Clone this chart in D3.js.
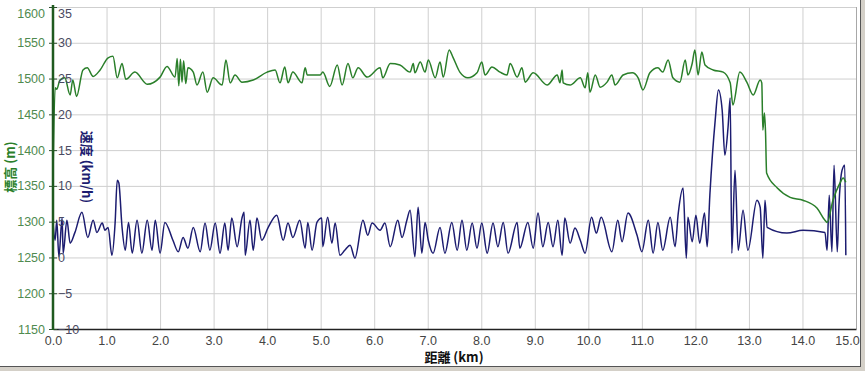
<!DOCTYPE html>
<html>
<head>
<meta charset="utf-8">
<script src="https://cdn.jsdelivr.net/npm/d3@7"></script>
<style>
  body { margin: 0; background: #fff; }
  svg { display: block; font-family: "Liberation Sans", Arial, sans-serif; }
</style>
</head>
<body>
<div class="chart"></div>
<script>
// elevation track (km, m)
const elevKm = [
  0, 0.04, 0.07, 0.13, 0.22, 0.32, 0.37, 0.44, 0.56, 0.64,
  0.75, 0.88, 1.03, 1.12, 1.20, 1.29, 1.36, 1.53, 1.76, 2.00,
  2.13, 2.28, 2.32, 2.35, 2.38, 2.41, 2.44, 2.48, 2.52, 2.62,
  2.69, 2.80, 2.88, 2.99, 3.16, 3.23, 3.31, 3.40, 3.53, 3.74,
  4.00, 4.15, 4.24, 4.33, 4.39, 4.48, 4.65, 4.71, 4.75, 4.99,
  5.04, 5.17, 5.31, 5.40, 5.51, 5.60, 5.70, 5.87, 6.11, 6.16,
  6.30, 6.48, 6.67, 6.73, 6.76, 6.86, 6.95, 7.01, 7.14, 7.23,
  7.29, 7.40, 7.47, 7.60, 7.75, 7.92, 8.01, 8.07, 8.20, 8.35,
  8.48, 8.54, 8.67, 8.76, 8.82, 8.97, 9.23, 9.42, 9.47, 9.51,
  9.53, 9.66, 9.85, 9.94, 9.99, 10.03, 10.13, 10.22, 10.35, 10.44,
  10.50, 10.65, 10.82, 10.93, 11.02, 11.15, 11.30, 11.39, 11.49, 11.58,
  11.71, 11.81, 11.86, 11.94, 11.99, 12.05, 12.12, 12.18, 12.33, 12.52,
  12.65, 12.70, 12.83, 12.96, 13.08, 13.21, 13.24, 13.26, 13.29, 13.31,
  13.33, 13.53, 13.77, 14.01, 14.27, 14.42, 14.46, 14.57, 14.70, 14.76, 14.81
];
const elevM = [
  1362, 1487, 1485, 1498, 1501, 1477, 1498, 1475, 1512, 1515,
  1503, 1512, 1529, 1531, 1501, 1521, 1499, 1509, 1492, 1502,
  1517, 1502, 1528, 1490, 1527, 1495, 1525, 1493, 1515, 1509,
  1491, 1509, 1481, 1501, 1491, 1526, 1494, 1505, 1495, 1498,
  1509, 1512, 1494, 1516, 1494, 1509, 1494, 1515, 1505, 1505,
  1509, 1489, 1519, 1491, 1521, 1501, 1515, 1502, 1515, 1501,
  1521, 1519, 1509, 1521, 1508, 1523, 1509, 1526, 1501, 1523,
  1502, 1540, 1530, 1509, 1501, 1508, 1523, 1505, 1516, 1509,
  1505, 1521, 1502, 1515, 1495, 1508, 1491, 1505, 1494, 1512,
  1494, 1491, 1501, 1487, 1508, 1481, 1505, 1488, 1495, 1505,
  1491, 1505, 1508, 1501, 1484, 1508, 1515, 1509, 1526, 1501,
  1495, 1526, 1505, 1521, 1540, 1505, 1537, 1519, 1512, 1509,
  1494, 1463, 1509, 1495, 1477, 1498, 1494, 1428, 1452, 1425,
  1368, 1347, 1334, 1330, 1319, 1302, 1299, 1330, 1354, 1361, 1355
];

// speed track (km, km/h)
const speedKm = [
  0, 0.04, 0.07, 0.11, 0.17, 0.19, 0.26, 0.32, 0.41, 0.54,
  0.65, 0.75, 0.82, 0.92, 0.97, 1.03, 1.10, 1.16, 1.20, 1.23,
  1.29, 1.35, 1.41, 1.48, 1.57, 1.66, 1.76, 1.85, 1.91, 2.00,
  2.09, 2.24, 2.34, 2.43, 2.52, 2.62, 2.75, 2.84, 2.93, 3.03,
  3.12, 3.21, 3.27, 3.34, 3.44, 3.53, 3.57, 3.59, 3.68, 3.74,
  3.81, 3.90, 4.02, 4.18, 4.30, 4.39, 4.48, 4.61, 4.71, 4.76,
  4.84, 4.93, 5.02, 5.04, 5.13, 5.21, 5.27, 5.36, 5.45, 5.55,
  5.64, 5.79, 5.88, 5.96, 6.11, 6.20, 6.30, 6.44, 6.52, 6.61,
  6.67, 6.76, 6.82, 6.89, 6.95, 7.01, 7.10, 7.23, 7.32, 7.45,
  7.55, 7.64, 7.73, 7.83, 7.92, 8.01, 8.11, 8.22, 8.31, 8.41,
  8.50, 8.67, 8.72, 8.87, 8.97, 9.06, 9.15, 9.25, 9.34, 9.43,
  9.51, 9.56, 9.66, 9.75, 9.85, 9.94, 10.06, 10.15, 10.24, 10.44,
  10.55, 10.63, 10.74, 10.91, 11.00, 11.12, 11.21, 11.30, 11.39, 11.53,
  11.62, 11.68, 11.77, 11.83, 11.86, 11.94, 12.01, 12.08, 12.17, 12.22,
  12.27, 12.37, 12.43, 12.50, 12.55, 12.61, 12.65, 12.68, 12.74, 12.80,
  12.89, 12.98, 13.15, 13.21, 13.26, 13.30, 13.34, 13.71, 14.01, 14.42,
  14.46, 14.50, 14.55, 14.59, 14.65, 14.68, 14.74, 14.79, 14.81
];
const speedKmh = [
  4.9, 2.4, 5.2, 0.1, 5.5, 0.6, 5.2, 2.0, 3.5, 6.3,
  2.8, 5.2, 3.5, 4.8, 3.8, 4.2, 0.3, 4.8, 10.8, 10.4,
  4.2, 1.0, 4.9, 0.6, 5.2, 0.6, 5.2, 1.0, 5.2, 0.6,
  4.9, 2.4, 0.8, 2.8, 1.3, 4.2, 0.8, 4.8, 1.0, 4.8,
  0.6, 4.8, 1.0, 5.5, 1.5, 5.5, 6.3, 0.3, 5.2, 1.0,
  5.5, 2.4, 4.2, 5.9, 2.4, 4.8, 2.8, 5.2, 1.3, 4.9,
  1.0, 4.9, 5.5, 1.5, 5.6, 2.0, 4.8, 0.3, 1.0, 1.7,
  -0.1, 5.2, 3.1, 4.8, 3.8, 4.8, 1.5, 5.2, 2.8, 5.2,
  6.6, 0.1, 7.0, 0.6, 4.9, 2.4, 0.6, 4.2, 0.6, 4.9,
  1.0, 5.2, 1.0, 4.8, 1.3, 4.8, 0.6, 4.8, 1.5, 4.9,
  0.6, 4.9, 1.3, 4.9, 1.3, 6.2, 1.5, 4.9, 1.5, 5.2,
  0.3, 5.5, 2.0, 4.1, 2.4, 0.6, 5.6, 3.4, 5.6, 0.8,
  5.2, 2.2, 6.2, 3.1, 0.8, 5.2, 0.6, 4.9, 1.0, 5.6,
  1.5, 6.2, 9.7, -0.1, 5.6, 2.2, 5.9, 2.0, 6.2, 1.5,
  8.7, 19.2, 23.4, 20.6, 14.3, 18.2, 22.3, 0.6, 12.2, 1.0,
  6.6, 1.0, 8.0, 7.0, -0.1, 8.0, 4.2, 3.4, 3.8, 3.5,
  1.0, 8.7, 0.8, 12.9, 0.8, 7.0, 12.2, 12.9, 0.3
];

const xTicks = d3.range(0, 16, 1);
const elevTicks = d3.range(1150, 1601, 50);
const speedTicks = d3.range(-10, 36, 5);

const width = 865;
const height = 371;
const plot = { left: 53, right: 856, top: 7, bottom: 329 };

const x = d3.scaleLinear().domain([0, 15]).range([plot.left, plot.right]);
const yElev = d3.scaleLinear().domain([1150, 1600]).range([plot.bottom, plot.top]);
const ySpeed = d3.scaleLinear().domain([-10, 35]).range([plot.bottom, plot.top]);

const svg = d3.select(".chart").append("svg")
  .attr("width", width)
  .attr("height", height);

// window frame
svg.append("rect").attr("width", width).attr("height", height).attr("fill", "#d4d0c8");
svg.append("rect").attr("width", 860).attr("height", 367).attr("fill", "#fff");
svg.append("line").attr("x1", 860.5).attr("x2", 860.5).attr("y1", 0).attr("y2", 367)
  .attr("stroke", "#555");
svg.append("line").attr("x1", 0).attr("x2", 861).attr("y1", 366.5).attr("y2", 366.5)
  .attr("stroke", "#555");

// grid
svg.append("g").selectAll("line")
  .data(xTicks.slice(1))
  .enter().append("line")
  .attr("x1", d => x(d) + 0.5).attr("x2", d => x(d) + 0.5)
  .attr("y1", plot.top).attr("y2", plot.bottom)
  .attr("stroke", d => d === 15 ? "#a8a8a8" : "#cfcfcf");

svg.append("g").selectAll("line")
  .data(elevTicks.slice(1))
  .enter().append("line")
  .attr("x1", plot.left).attr("x2", plot.right)
  .attr("y1", d => yElev(d) + 0.5).attr("y2", d => yElev(d) + 0.5)
  .attr("stroke", "#cfcfcf");

// lines
svg.append("clipPath").attr("id", "clip").append("rect")
  .attr("x", plot.left).attr("y", plot.top)
  .attr("width", plot.right - plot.left).attr("height", plot.bottom - plot.top);

const elevLine = d3.line()
  .x((d, i) => x(elevKm[i]))
  .y(d => yElev(d))
  .curve(d3.curveMonotoneX);

const speedLine = d3.line()
  .x((d, i) => x(speedKm[i]))
  .y(d => ySpeed(d))
  .curve(d3.curveMonotoneX);

svg.append("path")
  .attr("clip-path", "url(#clip)")
  .attr("d", speedLine(speedKmh))
  .attr("fill", "none")
  .attr("stroke", "#1c1c70")
  .attr("stroke-width", 1.5);

svg.append("path")
  .attr("clip-path", "url(#clip)")
  .attr("d", elevLine(elevM))
  .attr("fill", "none")
  .attr("stroke", "#2a7f2a")
  .attr("stroke-width", 1.5);

// x axis
const xAxis = svg.append("g")
  .attr("transform", `translate(0,${plot.bottom})`)
  .call(d3.axisBottom(x).tickValues(xTicks).tickFormat(d3.format(".1f")).tickSize(0).tickPadding(7));
xAxis.select(".domain").attr("stroke", "#222").attr("stroke-width", 1.5);
xAxis.selectAll("text")
  .attr("fill", "#444")
  .style("font-size", "12.5px")
  .attr("dx", d => d === 15 ? -9 : 0);

// elevation axis (left side of the line)
const elevAxis = svg.append("g")
  .attr("transform", `translate(${plot.left},0)`)
  .call(d3.axisLeft(yElev).tickValues(elevTicks).tickFormat(d3.format("d")).tickSize(4).tickPadding(4));
elevAxis.select(".domain").remove();
elevAxis.selectAll("line").attr("stroke", "#2f4f2f");
elevAxis.selectAll("text")
  .attr("fill", "#4f8a4f")
  .style("font-size", "12.5px")
  .attr("dy", d => d === 1600 ? "0.8em" : "0.32em");

// speed axis (right side of the same line)
const speedAxis = svg.append("g")
  .attr("transform", `translate(${plot.left},0)`)
  .call(d3.axisRight(ySpeed).tickValues(speedTicks).tickSize(4).tickPadding(1));
speedAxis.select(".domain").remove();
speedAxis.selectAll("line").attr("stroke", "#2f4f2f");
speedAxis.selectAll("text")
  .attr("fill", "#4a4a62")
  .style("font-size", "12.5px")
  .attr("dy", d => d === 35 ? "0.8em" : "0.32em");

svg.append("line")
  .attr("x1", plot.left).attr("x2", plot.left)
  .attr("y1", 5).attr("y2", plot.bottom + 1)
  .attr("stroke", "#1f5a1f")
  .attr("stroke-width", 2.5);

// titles
svg.append("text")
  .attr("transform", "translate(15,167) rotate(-90)")
  .attr("text-anchor", "middle")
  .attr("fill", "#2a7f2a")
  .style("font-family", "'Noto Sans CJK JP', sans-serif")
  .style("font-weight", "bold")
  .style("font-size", "13px")
  .text("標高 (m)");

svg.append("text")
  .attr("transform", "translate(82,167) rotate(90)")
  .attr("text-anchor", "middle")
  .attr("fill", "#1c1c70")
  .style("font-family", "'Noto Sans CJK JP', sans-serif")
  .style("font-weight", "bold")
  .style("font-size", "13px")
  .text("速度 (km/h)");

svg.append("text")
  .attr("x", 454).attr("y", 362)
  .attr("text-anchor", "middle")
  .attr("fill", "#111")
  .style("font-family", "'Noto Sans CJK JP', sans-serif")
  .style("font-weight", "bold")
  .style("font-size", "13px")
  .text("距離 (km)");
</script>
</body>
</html>
